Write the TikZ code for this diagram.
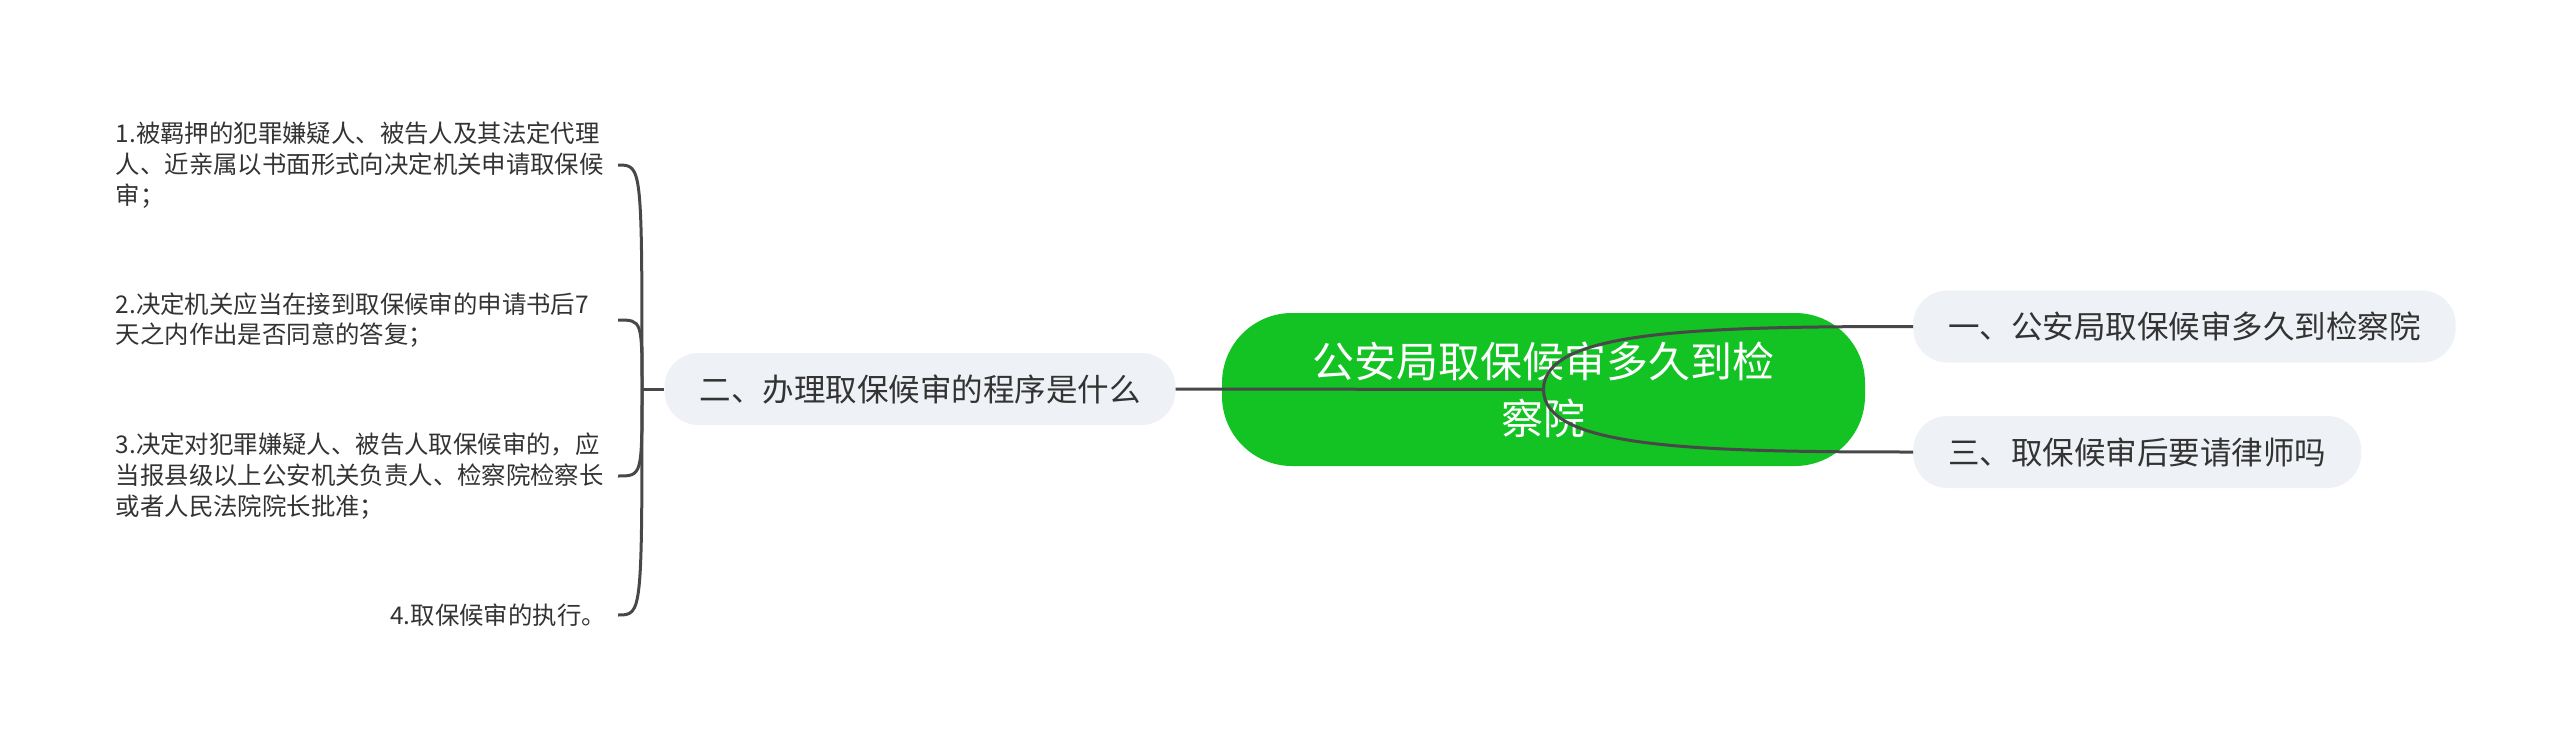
\documentclass[tikz,border=0pt]{standalone}
\usepackage{fontspec}
\setmainfont{Noto Sans CJK SC}
\definecolor{cgreen}{RGB}{19,194,35}
\definecolor{subfill}{RGB}{238,241,245}
\definecolor{lineclr}{RGB}{72,72,72}
\definecolor{txt}{RGB}{51,51,51}
\begin{document}
\begin{tikzpicture}[x=1pt,y=-1pt,
  central/.style={fill=cgreen, rounded corners=70pt, minimum width=643pt, minimum height=153pt, inner sep=0pt, align=center, text=white, font=\fontsize{42}{57}\selectfont},
  sub/.style={fill=subfill, rounded corners=34pt, minimum height=72pt, inner xsep=35pt, inner ysep=0pt, text=txt, font=\fontsize{31.5}{38}\selectfont},
  leaf/.style={anchor=east, inner xsep=12pt, inner ysep=0pt, align=left, text=txt, font=\fontsize{24.4}{30.7}\selectfont},
  conn/.style={draw=lineclr, line width=3pt}]
\useasboundingbox (0,0) rectangle (2560,747);
\node[central] (c) at (1543.5,389.5) {公安局取保候审多久到检\\察院};
\node[sub, anchor=west] (r1) at (1913,326.5) {一、公安局取保候审多久到检察院};
\node[sub, anchor=west] (r3) at (1913,452) {三、取保候审后要请律师吗};
\node[sub] (l2) at (920,389) {二、办理取保候审的程序是什么};
\node[leaf, text width=490pt] (a1) at (618,165) {1.被羁押的犯罪嫌疑人、被告人及其法定代理\\人、近亲属以书面形式向决定机关申请取保候\\审；};
\node[leaf, text width=490pt] (a2) at (618,320) {2.决定机关应当在接到取保候审的申请书后7\\天之内作出是否同意的答复；};
\node[leaf, text width=490pt] (a3) at (618,476) {3.决定对犯罪嫌疑人、被告人取保候审的，应\\当报县级以上公安机关负责人、检察院检察长\\或者人民法院院长批准；};
\node[leaf] (a4) at (618,615) {4.取保候审的执行。};
\coordinate (j) at (642,389);
\draw[conn] (l2.east) -- (c.center);
\draw[conn] (c.center) .. controls +(0,-58) and +(-223,0) .. (r1.west);
\draw[conn] (c.center) .. controls +(0,58) and +(-223,0) .. (r3.west);
\draw[conn] (l2.west) -- (j);
\foreach \n in {a1,a2,a3,a4} \draw[conn] (j) .. controls (j |- \n.east) and (j |- \n.east) .. (\n.east);
\end{tikzpicture}
\end{document}
